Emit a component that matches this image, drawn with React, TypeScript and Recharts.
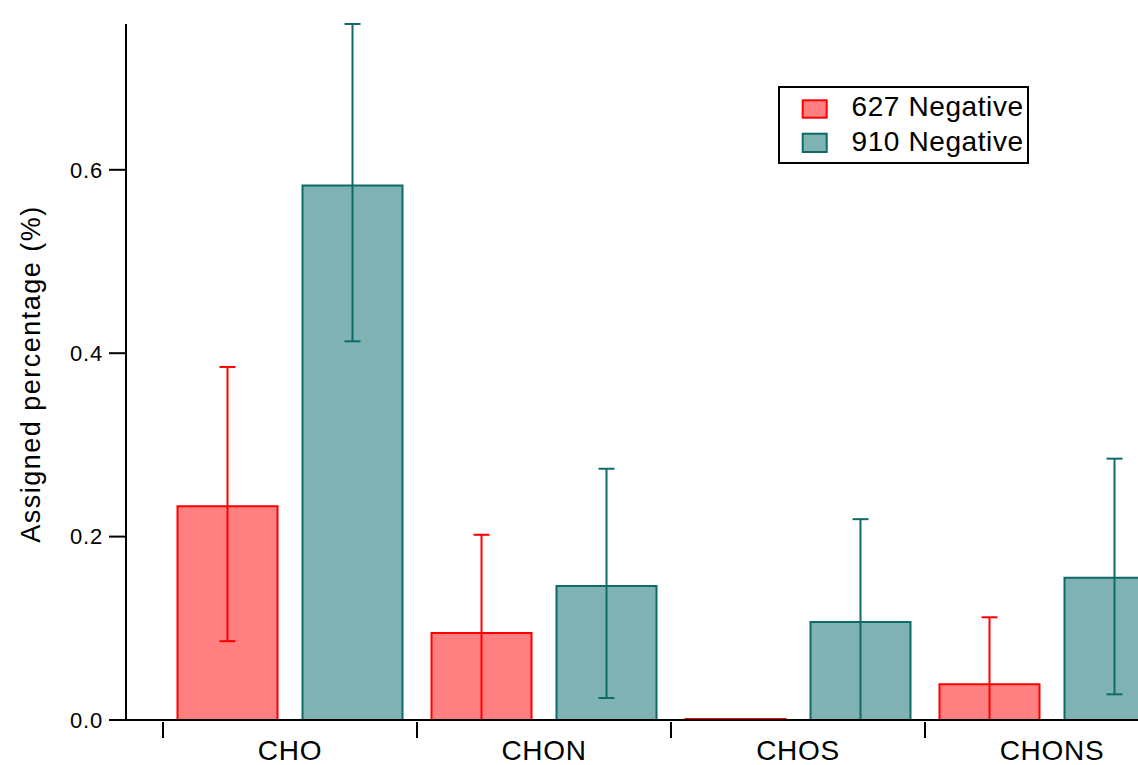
import { ComposedChart, Bar, XAxis, YAxis, ErrorBar, Legend, Label } from 'recharts';

const FONT = '"Liberation Sans", Arial, sans-serif';

const categories = ['CHO', 'CHON', 'CHOS', 'CHONS'];
const negative627 = [0.233, 0.095, 0.001, 0.039];
const negative910 = [0.583, 0.146, 0.107, 0.155];
// [down, up] error extents; lower whiskers that reach the axis end at 0
const error627 = [[0.147, 0.152], [0.095, 0.107], [0, 0], [0.039, 0.073]];
const error910 = [[0.17, 0.176], [0.122, 0.128], [0.107, 0.112], [0.127, 0.13]];
const yTicks = [0, 0.2, 0.4, 0.6];

const data = categories.map((name, i) => ({
  name,
  neg627: negative627[i],
  neg910: negative910[i],
  err627: error627[i],
  err910: error910[i],
}));

const RED_FILL = '#FF8080';
const RED_LINE = '#FF0000';
const TEAL_FILL = '#7FB3B3';
const TEAL_LINE = '#0F6A6A';

// tick mark sits on the category boundary, label in the middle
const CategoryTick = (props: any) => {
  const { x, y, payload } = props;
  const half = payload?.offset ?? 0;
  return (
    <g>
      <line x1={x - half} y1={y + 2} x2={x - half} y2={y + 18} stroke="#000" strokeWidth={2} />
      <text
        x={x}
        y={y + 40}
        textAnchor="middle"
        fontSize={28}
        letterSpacing={0.7}
        fontFamily={FONT}
        fill="#000"
      >
        {payload.value}
      </text>
    </g>
  );
};

const YLabel = (props: any) => {
  const vb = props.viewBox || { x: 0, y: 24, width: 126, height: 696 };
  const cx = vb.x + 31;
  const cy = vb.y + vb.height / 2 + 2;
  return (
    <text
      x={cx}
      y={cy}
      transform={`rotate(-90, ${cx}, ${cy})`}
      textAnchor="middle"
      dominantBaseline="central"
      fontSize={27}
      letterSpacing={1.5}
      fontFamily={FONT}
      fill="#000"
    >
      Assigned percentage (%)
    </text>
  );
};

const renderLegend = (props: any) => {
  const payload = props.payload || [];
  const rows = [
    { rectY: 14.3, rectH: 17.4, textY: 29.5 },
    { rectY: 47.7, rectH: 18.3, textY: 65.3 },
  ];
  return (
    <svg width={251} height={78} style={{ display: 'block' }}>
      <rect x={1} y={1} width={249} height={76} fill="#fff" stroke="#000" strokeWidth={2} />
      {payload.map((entry: any, i: number) => (
        <g key={entry.value}>
          <rect
            x={24.7}
            y={rows[i].rectY}
            width={24}
            height={rows[i].rectH}
            fill={entry.color}
            stroke={entry.payload?.stroke}
            strokeWidth={2}
          />
          <text
            x={73.5}
            y={rows[i].textY}
            fontSize={28}
            letterSpacing={0.6}
            fontFamily={FONT}
            fill="#000"
          >
            {entry.value}
          </text>
        </g>
      ))}
    </svg>
  );
};

const App = () => {
  return (
    <div
      style={{
        position: 'absolute',
        left: 0,
        top: 0,
        width: 1138,
        height: 765,
        overflow: 'hidden',
        background: '#fff',
      }}
    >
      <ComposedChart
        width={1180}
        height={765}
        data={data}
        margin={{ top: 24, right: 1, bottom: 0, left: 0 }}
        barCategoryGap={14.5}
        barGap={25}
      >
        <XAxis
          dataKey="name"
          height={45}
          padding={{ left: 37, right: 0 }}
          axisLine={{ stroke: '#000', strokeWidth: 2 }}
          tickLine={false}
          tickSize={0}
          tickMargin={0}
          interval={0}
          tick={<CategoryTick />}
        />
        <YAxis
          type="number"
          domain={[0, 0.759]}
          ticks={yTicks}
          width={126}
          interval={0}
          tickFormatter={(v: number) => v.toFixed(1)}
          tickSize={17}
          tickMargin={6}
          axisLine={{ stroke: '#000', strokeWidth: 2 }}
          tickLine={{ stroke: '#000', strokeWidth: 2 }}
          tick={{ fill: '#000', fontSize: 22, letterSpacing: 0.8, fontFamily: FONT }}
        >
          <Label content={YLabel} />
        </YAxis>
        <Legend
          layout="vertical"
          align="center"
          verticalAlign="middle"
          wrapperStyle={{ left: 778, top: 86, width: 251, height: 78 }}
          content={renderLegend}
        />
        <Bar
          dataKey="neg627"
          name="627 Negative"
          fill={RED_FILL}
          stroke={RED_LINE}
          strokeWidth={2}
          isAnimationActive={false}
        >
          <ErrorBar dataKey="err627" direction="y" width={8} stroke={RED_LINE} strokeWidth={2} isAnimationActive={false} />
        </Bar>
        <Bar
          dataKey="neg910"
          name="910 Negative"
          fill={TEAL_FILL}
          stroke={TEAL_LINE}
          strokeWidth={2}
          isAnimationActive={false}
        >
          <ErrorBar dataKey="err910" direction="y" width={8} stroke={TEAL_LINE} strokeWidth={2} isAnimationActive={false} />
        </Bar>
      </ComposedChart>
    </div>
  );
};

export default App;
